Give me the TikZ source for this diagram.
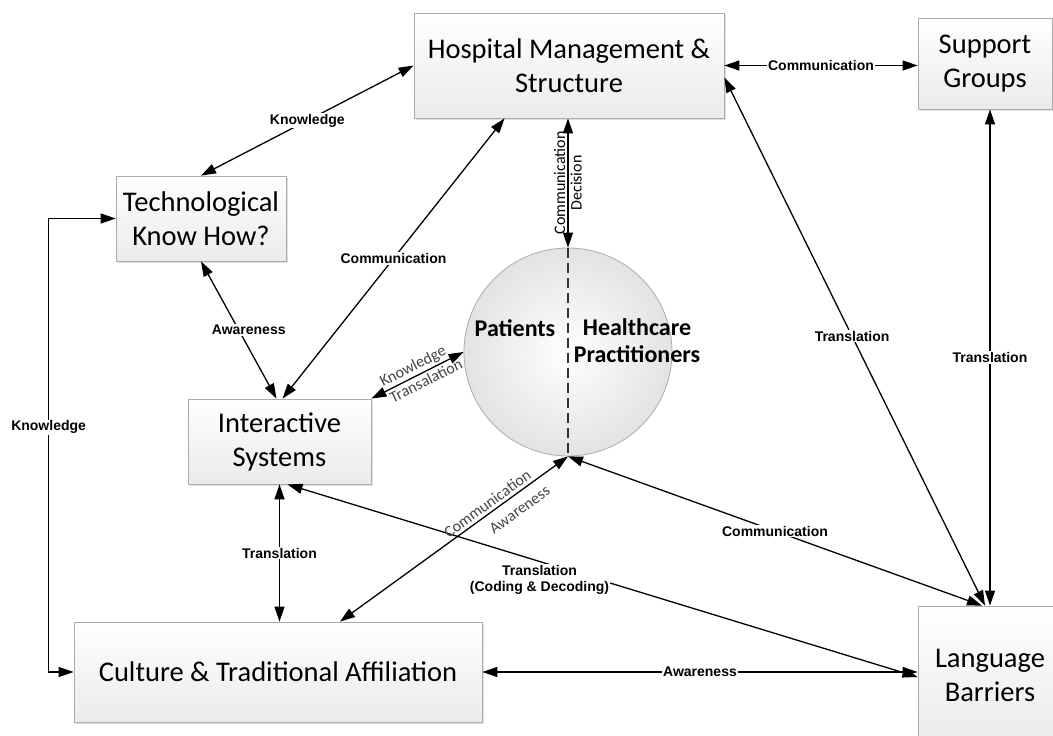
\documentclass[tikz,border=0pt]{standalone}
\usepackage{fontspec}
\setmainfont{Carlito}
\newfontfamily\lblfont{Liberation Sans}
\usetikzlibrary{arrows.meta,shadows}

\tikzset{
  box/.style={draw=gray!65, line width=0.8pt, top color=white, bottom color=gray!16,
    align=center, font=\fontsize{28.5}{34}\selectfont,
    drop shadow={shadow xshift=2pt, shadow yshift=-2pt, opacity=0.25}},
  link/.style={draw, line width=1.3pt, {Triangle[length=15pt,width=10pt]}-{Triangle[length=15pt,width=10pt]}},
  lbl/.style={fill=white, inner sep=1pt, align=center, font=\lblfont\bfseries\fontsize{14}{16}\selectfont},
  glbl/.style={text=gray!55!black, inner sep=2pt, sloped, font=\fontsize{16}{18}\selectfont},
}

\begin{document}
\begin{tikzpicture}[x=1pt,y=-1pt]
\fill[white] (0,0) rectangle (1053,736);
\useasboundingbox (0,0) rectangle (1053,736);

% boxes
\node[box, minimum width=310pt, minimum height=105pt] (hosp) at (569,65.5) {Hospital Management \&\\Structure};
\node[box, minimum width=134pt, minimum height=91pt] (sup) at (985,63.5) {Support\\Groups};
\node[box, minimum width=170pt, minimum height=85pt] (tech) at (201,218.5) {Technological\\Know How?};
\node[box, minimum width=183pt, minimum height=85pt] (inter) at (279.5,441.5) {Interactive\\Systems};
\node[box, minimum width=408pt, minimum height=100pt] (cult) at (278,672) {Culture \& Traditional Affiliation};
\node[box, minimum width=144pt, minimum height=138pt] (lang) at (990,675) {Language\\Barriers};

% circle
\node[circle, draw=gray!65, line width=0.8pt, inner color=white, outer color=gray!22, minimum size=208pt] (circ) at (568,352) {};
\draw[gray!40!black, line width=1.3pt, dash pattern=on 10pt off 5pt] (circ.north) -- (circ.south);
\node[font=\bfseries\fontsize{24}{27}\selectfont] (pat) at (515,328) {Patients};
\node[font=\bfseries\fontsize{24}{27}\selectfont, align=center] (hcp) at (637,341) {Healthcare\\Practitioners};

% connectors
\path
(hosp.east) edge[link] node[lbl] {Communication} (hosp.east -| sup.west)
(hosp.west) edge[link] node[lbl] {Knowledge} (tech.north)
([xshift=-64.5pt]hosp.south) edge[link] node[lbl] {Communication} ([xshift=3pt]inter.north)
(circ.north) edge[link] node[glbl, above, text=black] {Communication} node[glbl, below, text=black] {Decision} (hosp.south -| circ.north)
([yshift=-12pt]hosp.east) edge[link] node[lbl, pos=0.49] {Translation} ([xshift=-5pt]lang.north)
(sup.south -| lang.north) edge[link] node[lbl] {Translation} (lang.north)
(tech.south) edge[link] node[lbl, xshift=10pt] {Awareness} ([xshift=-3pt]inter.north)
(inter.north east) edge[link] node[glbl, above] {Knowledge} node[glbl, below, pos=0.55] {Transalation} (circ.west)
(inter.south) edge[link] node[lbl] {Translation} (inter.south |- cult.north)
([xshift=8pt]inter.south) edge[link] node[lbl, pos=0.4, yshift=-18pt] {Translation\\(Coding \& Decoding)} ([yshift=-2pt]lang.west)
([xshift=62pt]cult.north) edge[link] node[glbl, above=1pt, pos=0.67] {Communication} node[glbl, below=7pt, pos=0.75] {Awareness} (circ.south)
(circ.south) edge[link] node[lbl] {Communication} ([xshift=-8pt]lang.north)
(cult.east) edge[link] node[lbl] {Awareness} (cult.east -| lang.west)
;
\draw[link] (tech.west) -- ++(-67,0) |- node[lbl, pos=0.23] {Knowledge} (cult.west);
\end{tikzpicture}
\end{document}
